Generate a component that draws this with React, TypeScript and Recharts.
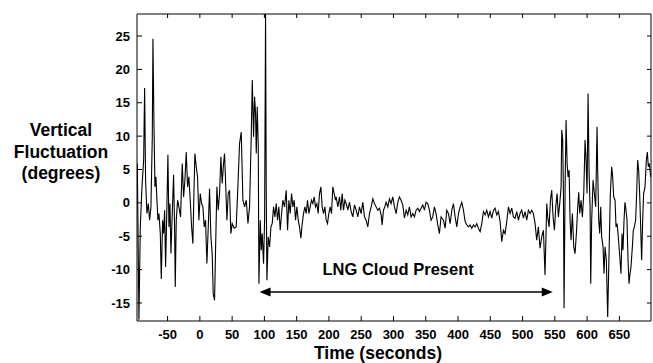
import { LineChart, Line, XAxis, YAxis, ReferenceLine, Label } from 'recharts';

// time (s) and vertical fluctuation (deg)
const timeSec = [
  -96.9, -94.4, -92.3, -89.7, -87.1, -85.6, -84.1, -82.0, -79.9, -77.9, -75.8, -73.7, -72.7, -71.2, -69.6, -68.1,
  -66.5, -65.0, -63.4, -61.3, -59.8, -57.7, -56.2, -54.6, -53.1, -51.5, -49.5, -47.9, -46.4, -44.8, -42.8, -40.7,
  -39.2, -38.1, -36.6, -34.5, -32.5, -29.9, -27.3, -25.2, -23.2, -21.1, -19.0, -17.0, -14.9, -12.8, -10.8, -9.2,
  -7.7, -5.6, -3.6, -1.5, 0.6, 2.6, 4.7, 6.8, 8.8, 10.9, 13.0, 15.0, 17.1, 19.1, 20.7, 22.8,
  24.3, 26.4, 28.4, 30.5, 32.6, 34.6, 36.7, 38.2, 39.8, 41.9, 43.9, 46.0, 48.0, 50.1, 53.2, 56.3,
  58.9, 61.5, 64.1, 66.7, 69.3, 71.9, 74.5, 77.0, 79.6, 81.2, 83.2, 84.8, 86.3, 87.4, 88.9, 90.5,
  91.5, 93.6, 95.1, 96.6, 98.7, 100.3, 101.8, 102.8, 103.9, 105.9, 108.0, 110.1, 112.1, 114.2, 116.3, 118.3,
  120.4, 122.4, 124.5, 126.6, 128.6, 131.2, 133.8, 135.9, 137.9, 140.0, 142.1, 144.1, 146.2, 148.2, 150.3, 152.4,
  154.4, 156.5, 158.6, 160.6, 162.7, 164.8, 166.8, 168.9, 170.9, 173.0, 175.1, 177.1, 179.2, 181.3, 183.3, 185.4,
  187.5, 189.5, 191.6, 193.7, 195.7, 197.8, 199.8, 201.9, 204.0, 206.0, 208.1, 210.2, 211.2, 213.8, 216.4, 218.4,
  220.5, 222.6, 224.6, 226.7, 229.3, 231.8, 234.4, 237.0, 239.6, 242.2, 244.7, 247.3, 249.9, 252.5, 255.1, 257.6,
  260.2, 262.8, 265.4, 268.0, 270.5, 273.1, 275.7, 278.3, 280.9, 282.4, 284.5, 286.5, 288.6, 291.2, 293.8, 296.3,
  298.9, 301.5, 304.1, 306.7, 309.2, 311.8, 314.4, 317.0, 319.6, 322.1, 324.7, 327.3, 329.9, 332.5, 335.0, 337.6,
  340.2, 342.8, 345.4, 347.9, 350.5, 353.1, 355.7, 358.3, 360.8, 363.4, 366.0, 368.6, 371.2, 373.7, 377.5, 380.0,
  382.6, 385.2, 387.8, 390.4, 392.9, 395.5, 398.1, 400.7, 403.3, 405.8, 408.4, 411.0, 413.6, 416.2, 418.7, 421.3,
  423.9, 426.5, 429.1, 431.6, 434.2, 436.8, 439.4, 442.0, 444.5, 447.1, 449.7, 452.3, 454.9, 457.4, 460.0, 462.6,
  465.2, 467.8, 470.3, 472.9, 475.5, 478.1, 480.7, 483.2, 485.8, 488.4, 491.0, 493.6, 496.1, 498.7, 501.3, 503.9,
  506.5, 509.0, 511.6, 514.2, 516.8, 519.4, 521.9, 524.5, 527.1, 529.7, 532.3, 534.8, 537.5, 539.0, 541.1, 543.2,
  545.2, 547.3, 549.4, 551.4, 553.5, 555.5, 557.6, 559.7, 560.7, 562.2, 563.3, 564.3, 565.9, 567.4, 569.0, 570.5,
  572.1, 573.6, 575.1, 577.2, 579.3, 581.3, 583.4, 585.5, 587.0, 588.6, 590.6, 592.7, 594.8, 596.8, 598.4, 599.9,
  601.5, 603.0, 604.6, 605.6, 607.1, 609.2, 611.3, 613.3, 615.4, 616.4, 618.0, 619.5, 621.1, 622.6, 624.7, 626.2,
  627.8, 629.8, 631.9, 634.0, 636.0, 638.1, 639.6, 641.2, 643.3, 644.8, 646.4, 647.9, 649.5, 651.0, 652.5, 654.1,
  655.6, 657.2, 658.7, 660.3, 661.8, 663.4, 664.9, 666.5, 668.0, 670.1, 671.6, 673.2, 675.2, 676.8, 678.3, 679.9,
  681.4, 683.0, 684.5, 686.1, 687.6, 689.7, 691.8, 693.3, 694.9, 696.4, 698.5,
];

const fluctuationDeg = [
  5.9, -17.5, -3.6, 2.4, 6.4, 17.2, 3.4, -1.6, -0.1, -2.6, -0.6, 9.9, 24.6, 12.4, 2.4, 3.9,
  0.4, -2.6, -1.6, -4.6, -11.4, -2.6, -4.6, -1.1, -9.6, -2.6, 7.2, -3.6, -0.1, -7.6, -1.6, 4.2,
  -3.6, -12.6, -2.6, 0.4, -0.6, -2.1, 5.9, 0.9, 3.4, 7.6, 2.4, 3.9, 0.4, -3.6, -6.1, 1.4,
  7.4, 5.4, 3.9, -2.6, 1.4, -0.1, -0.6, -3.6, -2.6, -9.1, -3.6, 2.1, -5.1, -7.6, -13.6, -14.6,
  -7.1, 2.4, -1.1, 1.4, 6.9, 2.9, 5.9, 7.4, 3.4, -2.6, 1.4, 1.9, -4.6, -3.1, -3.8, -3.6,
  2.4, 8.9, 10.6, 0.4, -0.6, 0.4, -3.1, -0.6, 9.9, 18.4, 9.9, 15.9, 13.4, 7.4, 14.4, 8.4,
  -12.1, -2.6, -7.1, -4.6, -9.1, -2.6, 28.3, 2.4, -11.6, -5.1, -6.6, -3.6, -3.1, -0.6, -2.1, -0.1,
  -2.6, -0.6, -4.1, -1.6, 0.4, -0.6, 1.9, -4.1, 0.4, -1.6, 1.4, -0.6, 0.4, -2.6, -0.6, -2.6,
  -3.6, -5.3, -3.1, -1.6, -0.6, -1.6, 0.4, -1.6, -0.6, 0.4, -0.1, 0.9, -0.6, -0.1, -1.6, 1.4,
  2.4, -0.6, -1.6, -0.6, -2.6, -3.1, -1.6, -0.6, -1.6, 2.4, 1.4, 0.4, 0.9, -0.6, 0.9, -1.1,
  1.4, -1.1, 0.4, -0.1, -1.1, 0.1, -1.3, -2.1, -0.3, -1.1, -2.1, -0.6, -1.6, 0.1, -2.1, -2.6,
  -3.6, -1.6, -0.6, 0.6, -0.1, -0.6, -1.1, -0.8, -1.8, -3.3, -1.1, -0.6, 0.1, -0.6, 0.6, -0.1,
  0.9, -0.6, -1.6, 0.1, 0.9, 0.4, -0.3, -2.3, -1.1, -1.8, -0.6, -2.1, -1.6, -2.1, -1.1, -0.8,
  -1.3, -0.8, -0.3, -1.1, 0.1, -0.1, -1.1, -2.6, -2.1, -0.6, -1.6, -3.3, -4.6, -2.1, -2.6, -3.8,
  -1.1, -1.6, -3.1, -1.1, -0.1, -2.1, -3.6, -1.6, -0.6, 0.1, -1.1, -2.8, -3.3, -3.6, -3.3, -3.8,
  -3.3, -3.6, -3.1, -3.8, -4.3, -3.1, -1.3, -1.8, -1.1, -2.1, -1.3, -2.3, -1.1, -0.8, -1.8, -1.3,
  -2.8, -5.8, -4.1, -4.6, -2.8, -0.6, -1.6, -0.8, -2.1, -2.3, -1.3, -2.6, -1.6, -1.1, -2.3, -1.3,
  -2.6, -1.1, -1.6, -1.1, -1.6, -3.1, -5.6, -3.6, -6.8, -5.1, -4.1, -10.8, -0.1, -2.1, -3.6, 0.4,
  1.9, -2.1, -4.1, -0.6, 1.4, -2.1, -0.1, 2.4, 10.9, 9.4, 1.4, -15.8, 2.4, 12.4, 5.9, 3.9,
  4.9, -2.6, -5.6, -1.6, -6.6, -7.6, -4.6, -0.6, 1.6, -1.6, 0.4, -2.1, 1.4, 9.4, 6.4, 1.4,
  16.4, 4.9, -0.6, -12.1, -2.6, 3.4, 1.4, -0.6, 11.4, 4.9, -2.6, -4.6, -0.6, -5.1, -6.6, -10.6,
  -6.6, -8.6, -17.1, -7.6, 1.4, 5.4, 3.9, 0.9, 0.4, -3.6, -3.1, -4.6, -6.6, -8.6, -10.6, -4.6,
  -7.1, -2.6, 0.1, -1.1, -2.6, -8.6, -12.1, -10.6, -9.6, -6.6, -4.1, -3.6, -2.6, 1.4, 6.4, 4.9,
  1.4, -3.6, -8.6, -2.6, 1.4, 2.4, 6.4, 7.6, 5.4, 5.9, 3.9,
];

const xTicks = [-50, 0, 50, 100, 150, 200, 250, 300, 350, 400, 450, 500, 550, 600, 650];
const yTicks = [-15, -10, -5, 0, 5, 10, 15, 20, 25];
const xDomain = [-97.4, 699];
const yDomain = [-17.7, 28.3];

const cloudStart = 92.5;
const cloudEnd = 546.8;
const arrowLevel = -13.35;
const yTitleLines = ['Vertical', 'Fluctuation', '(degrees)'];

const data = timeSec.map((t, i) => ({ t, v: fluctuationDeg[i] }));

const FONT = '"Liberation Sans", Arial, Helvetica, sans-serif';
const tickStyle = { fill: '#000', fontSize: 13, fontWeight: 'bold', fontFamily: FONT };

function CloudArrow(props: any) {
  const { x1, y1, x2, y2 } = props;
  const head = 11;
  const half = 4.5;
  const mid = (x1 + x2) / 2;
  return (
    <g>
      <line x1={x1 + head - 1} y1={y1} x2={x2 - head + 1} y2={y2} stroke="#000" strokeWidth={1.6} />
      <polygon points={`${x1},${y1} ${x1 + head},${y1 - half} ${x1 + head},${y1 + half}`} fill="#000" />
      <polygon points={`${x2},${y2} ${x2 - head},${y2 - half} ${x2 - head},${y2 + half}`} fill="#000" />
      <text x={mid - 8} y={y1 - 17} textAnchor="middle" fontFamily={FONT} fontWeight="bold" fontSize={16.5} fill="#000">
        LNG Cloud Present
      </text>
    </g>
  );
}

const YTitle = () => (
  <text x={61} y={136} textAnchor="middle" fontFamily={FONT} fontWeight="bold" fontSize={17.5} fill="#000">
    {yTitleLines.map((s, i) => (
      <tspan key={s} x={61} dy={i === 0 ? 0 : 21.5}>
        {s}
      </tspan>
    ))}
  </text>
);

const XTitle = () => (
  <text x={378} y={359} textAnchor="middle" fontFamily={FONT} fontWeight="bold" fontSize={17.5} fill="#000">
    Time (seconds)
  </text>
);

const NoLabel = () => <g />;

export default function App() {
  return (
    <div style={{ position: 'absolute', left: 0, top: 0, background: '#fff' }}>
      <LineChart width={653} height={363} data={data} margin={{ top: 13, right: 1, bottom: 0, left: 0 }}>
        <XAxis
          dataKey="t"
          type="number"
          domain={xDomain}
          ticks={xTicks}
          interval={0}
          allowDataOverflow
          height={42}
          tickSize={-5}
          tickMargin={14}
          tick={tickStyle}
          axisLine={{ stroke: '#000' }}
          tickLine={{ stroke: '#000' }}
          label={<Label content={XTitle} />}
        />
        <XAxis
          xAxisId="top"
          dataKey="t"
          orientation="top"
          type="number"
          domain={xDomain}
          ticks={xTicks}
          interval={0}
          allowDataOverflow
          height={1}
          tickSize={-4}
          tick={NoLabel}
          axisLine={{ stroke: '#000' }}
          tickLine={{ stroke: '#000' }}
        />
        <YAxis
          type="number"
          domain={yDomain}
          ticks={yTicks}
          interval={0}
          allowDataOverflow
          width={137}
          tickSize={-5}
          tickMargin={12}
          tick={tickStyle}
          axisLine={{ stroke: '#000' }}
          tickLine={{ stroke: '#000' }}
          label={<Label content={YTitle} />}
        />
        <YAxis
          yAxisId="right"
          orientation="right"
          type="number"
          domain={yDomain}
          ticks={yTicks}
          interval={0}
          allowDataOverflow
          width={1}
          tickSize={-4}
          tick={NoLabel}
          axisLine={{ stroke: '#000' }}
          tickLine={{ stroke: '#000' }}
        />
        <Line
          dataKey="v"
          type="linear"
          stroke="#000"
          strokeWidth={1.1}
          dot={false}
          isAnimationActive={false}
        />
        {/* invisible twin so the frame axes get a series */}
        <Line
          xAxisId="top"
          yAxisId="right"
          dataKey="v"
          stroke="none"
          dot={false}
          activeDot={false}
          legendType="none"
          isAnimationActive={false}
        />
        <ReferenceLine
          segment={[
            { x: cloudStart, y: arrowLevel },
            { x: cloudEnd, y: arrowLevel },
          ]}
          shape={CloudArrow}
        />
      </LineChart>
    </div>
  );
}
